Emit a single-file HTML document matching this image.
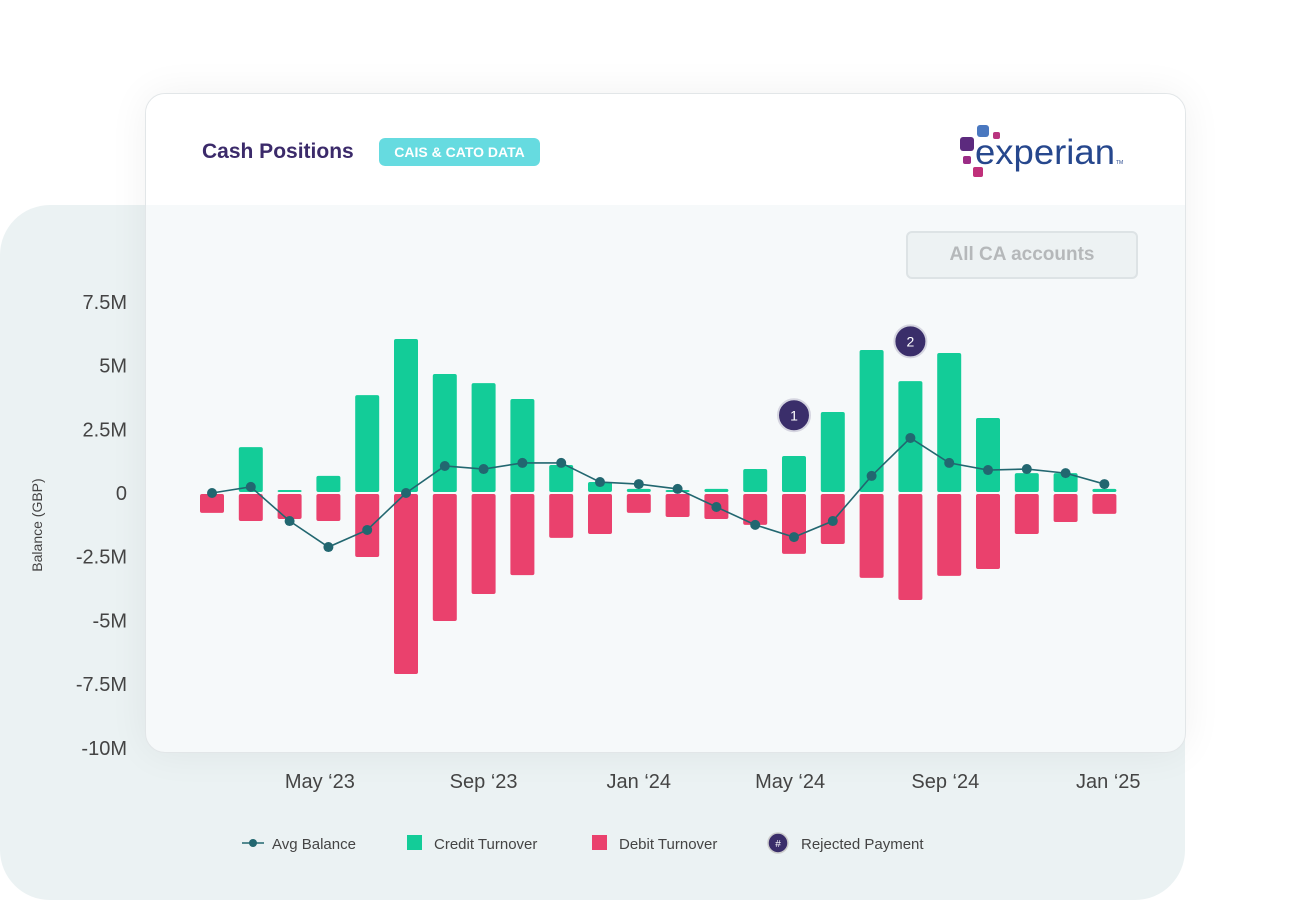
<!DOCTYPE html>
<html><head><meta charset="utf-8"><style>
body{margin:0;width:1290px;height:900px;background:#fff;position:relative;overflow:hidden;font-family:"Liberation Sans",sans-serif}
.back{position:absolute;left:0;top:205px;width:1185px;height:695px;background:#ebf2f3;border-radius:50px}
.card{position:absolute;left:145px;top:93px;width:1039px;height:658px;background:#f6f9fa;border:1px solid #e2e6e8;border-radius:20px;box-shadow:0 0 40px rgba(0,0,0,0.06);overflow:hidden}
.hdr{position:absolute;left:0;top:0;width:100%;height:111px;background:#fff}
.title{position:absolute;left:56px;top:46px;font-size:21px;font-weight:bold;color:#3b2a6a}
.tag{position:absolute;left:233px;top:44px;width:161px;height:28px;background:#66dbe0;border-radius:6px;color:#fff;font-size:14px;font-weight:bold;text-align:center;line-height:28px}
.btn{position:absolute;left:760px;top:137px;width:228px;height:44px;background:#edf2f3;border:2px solid #dde3e5;border-radius:6px;color:#b5b8ba;font-size:19px;font-weight:bold;text-align:center;line-height:44px}
svg{position:absolute;left:0;top:0}
</style></head><body>
<div class="back"></div>
<div class="card">
<div class="hdr">
<div class="title">Cash Positions</div>
<div class="tag">CAIS &amp; CATO DATA</div>
</div>
<div class="btn">All CA accounts</div>
</div>
<svg id="chart" width="1290" height="900">
<g>
<rect x="977" y="125" width="12" height="12" rx="3" fill="#4a78c0"/>
<rect x="960" y="137" width="14" height="14" rx="3" fill="#5c2a7e"/>
<rect x="993" y="132" width="7" height="7" rx="2" fill="#b9347f"/>
<rect x="963" y="156" width="8" height="8" rx="2" fill="#9b2c86"/>
<rect x="973" y="167" width="10" height="10" rx="2" fill="#c0307a"/>
<text x="975" y="164" font-size="35" fill="#26478d" font-family="Liberation Sans, sans-serif" textLength="140" lengthAdjust="spacingAndGlyphs">experian</text>
<text x="1116" y="164" font-size="5" fill="#26478d">TM</text>
</g>
</svg>
<script>
const categories=["Jan 23","Feb 23","Mar 23","Apr 23","May 23","Jun 23","Jul 23","Aug 23","Sep 23","Oct 23","Nov 23","Dec 23","Jan 24","Feb 24","Mar 24","Apr 24","May 24","Jun 24","Jul 24","Aug 24","Sep 24","Oct 24","Nov 24","Dec 24"];
const credit=[0,1.8,0.12,0.67,3.84,6.04,4.67,4.31,3.69,1.1,0.43,0.16,0.12,0.16,0.94,1.45,3.18,5.61,4.39,5.49,2.94,0.78,0.78,0.16];
const debit=[-0.78,-1.1,-1.02,-1.1,-2.51,-7.1,-5.02,-3.96,-3.22,-1.76,-1.61,-0.78,-0.94,-1.02,-1.25,-2.39,-2.0,-3.33,-4.2,-3.25,-2.98,-1.61,-1.14,-0.82];
const avgBalance=[0,0.24,-1.1,-2.12,-1.45,0,1.06,0.94,1.18,1.18,0.43,0.35,0.16,-0.55,-1.25,-1.73,-1.1,0.67,2.16,1.18,0.9,0.94,0.78,0.35];
const yTicks=[7.5,5,2.5,0,-2.5,-5,-7.5,-10];
const yTickLabels=["7.5M","5M","2.5M","0","-2.5M","-5M","-7.5M","-10M"];
const xTickLabels=["May \u201823","Sep \u201823","Jan \u201824","May \u201824","Sep \u201824","Jan \u201825"];
const xTickIndex=[2.78,7.0,11.0,14.9,18.9,23.1];
const rejectedIndex=[15,18];
const rejectedValue=[3.05,5.95];
const rejectedLabels=["1","2"];

const NS="http://www.w3.org/2000/svg";
const svg=document.getElementById('chart');
const y=v=>493-v*25.49;
const x=i=>212+i*38.8;
function mk(t,a){const e=document.createElementNS(NS,t);for(const k in a)e.setAttribute(k,a[k]);svg.appendChild(e);return e;}
yTicks.forEach((v,i)=>{const t=mk('text',{x:127,y:y(v)+7,'text-anchor':'end','font-size':20,fill:'#444'});t.textContent=yTickLabels[i];

});
const yt=mk('text',{x:0,y:0,transform:'translate(42,525) rotate(-90)','text-anchor':'middle','font-size':14,fill:'#444'});yt.textContent='Balance (GBP)';


xTickLabels.forEach((l,i)=>{const t=mk('text',{x:x(xTickIndex[i]),y:788,'text-anchor':'middle','font-size':20,fill:'#444'});t.textContent=l;

});
const bw=24;
categories.forEach((c,i)=>{
 if(credit[i]>0){const r=mk('rect',{x:x(i)-bw/2,y:y(credit[i]),width:bw,height:y(0)-y(credit[i])-1,rx:2,fill:'#13cc98'});
 
 }
 const d=mk('rect',{x:x(i)-bw/2,y:y(0)+1,width:bw,height:y(debit[i])-y(0)-1,rx:2,fill:'#ea416d'});
 
 
});
const ln=mk('polyline',{points:avgBalance.map((v,i)=>x(i)+','+y(v)).join(' '),fill:'none',stroke:'#226770','stroke-width':1.6});


avgBalance.forEach((v,i)=>{const c=mk('circle',{cx:x(i),cy:y(v),r:5,fill:'#226770'});

});
rejectedIndex.forEach((idx,i)=>{const c=mk('circle',{cx:x(idx),cy:y(rejectedValue[i]),r:16,fill:'#3a2e6a',stroke:'#d5d5e0','stroke-width':2});


const t=mk('text',{x:x(idx),y:y(rejectedValue[i])+5,'text-anchor':'middle','font-size':14,fill:'#fff'});t.textContent=rejectedLabels[i];

});
const lg=[[242,'line','Avg Balance'],[407,'#13cc98','Credit Turnover'],[592,'#ea416d','Debit Turnover'],[770,'rej','Rejected Payment']];
lg.forEach(([lx,k,l])=>{
 let tx;
 if(k==='line'){mk('line',{x1:lx,y1:843,x2:lx+22,y2:843,stroke:'#226770','stroke-width':1.5});mk('circle',{cx:lx+11,cy:843,r:4,fill:'#226770'});tx=lx+30;}
 else if(k==='rej'){mk('circle',{cx:lx+8,cy:843,r:10,fill:'#3a2e6a',stroke:'#ccc','stroke-width':1.5});const h=mk('text',{x:lx+8,y:847,'text-anchor':'middle','font-size':10,fill:'#fff'});h.textContent='#';tx=lx+31;}
 else{mk('rect',{x:lx,y:835,width:15,height:15,fill:k});tx=lx+27;}
 const t=mk('text',{x:tx,y:849,'font-size':15,fill:'#444'});t.textContent=l;
 
 
});
</script>
</body></html>
